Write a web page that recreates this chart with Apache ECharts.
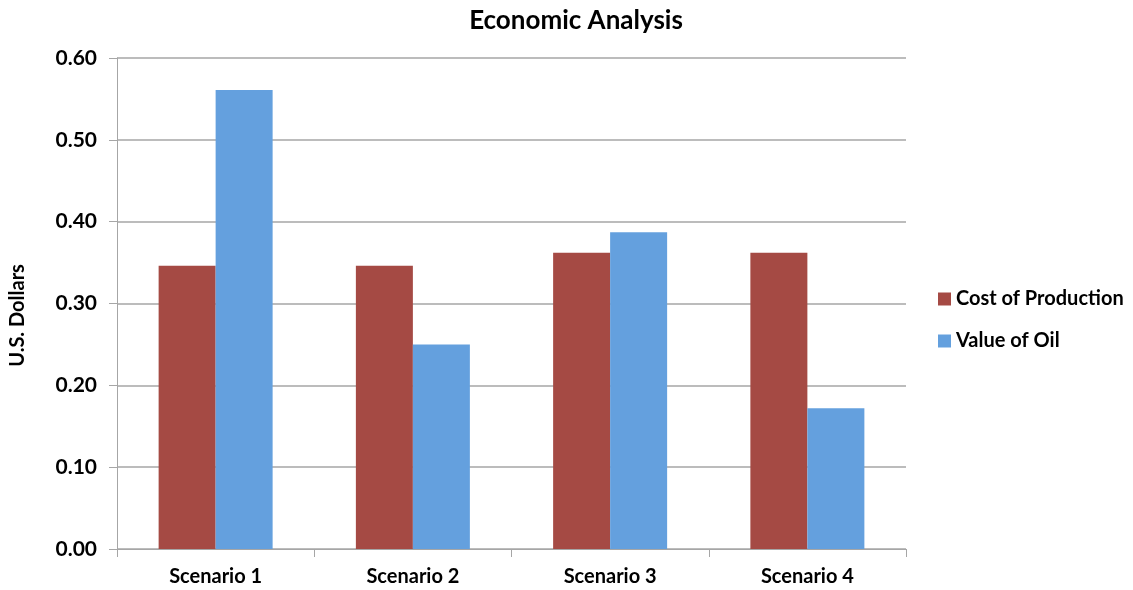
<!DOCTYPE html>
<html>
<head>
<meta charset="utf-8">
<script src="https://cdn.jsdelivr.net/npm/echarts@6/dist/echarts.min.js"></script>
<style>
  html, body { margin: 0; padding: 0; background: #fff; }
  #chart { width: 1133px; height: 590px; }
</style>
</head>
<body>
<div id="chart"></div>
<script>
// Values
const categories = ["Scenario 1", "Scenario 2", "Scenario 3", "Scenario 4"];
const costOfProduction = [0.346, 0.346, 0.362, 0.362];
const valueOfOil = [0.561, 0.250, 0.387, 0.172];
const yTicks = [0, 0.1, 0.2, 0.3, 0.4, 0.5, 0.6];

const FONT = "Lato, 'Open Sans', sans-serif";
const TEXT = "#000";
const GRID_LINE = "#a6a6a6";

const chart = echarts.init(document.getElementById("chart"), null, { renderer: "canvas" });

chart.setOption({
  animation: false,
  backgroundColor: "#fff",
  textStyle: { fontFamily: FONT },
  title: {
    text: "Economic Analysis",
    left: 571,
    top: 3,
    textAlign: "center",
    textStyle: { fontFamily: FONT, fontSize: 26, fontWeight: "bold", color: TEXT },
  },
  legend: {
    orient: "vertical",
    left: 933,
    top: 284,
    itemWidth: 13,
    itemHeight: 13,
    itemGap: 22,
    icon: "rect",
    textStyle: { fontFamily: FONT, fontSize: 20, fontWeight: "bold", color: TEXT },
    data: ["Cost of Production", "Value of Oil"],
  },
  grid: {
    left: 117, right: 227, top: 58, bottom: 41,
    containLabel: false,
    outerBoundsMode: "none",
  },
  xAxis: {
    type: "category",
    data: categories,
    axisLine: { show: true, lineStyle: { color: GRID_LINE, width: 1 } },
    axisTick: { show: true, length: 8, lineStyle: { color: GRID_LINE } },
    axisLabel: { fontFamily: FONT, fontSize: 20, fontWeight: "bold", color: TEXT, margin: 18 },
  },
  yAxis: {
    type: "value",
    min: yTicks[0],
    max: yTicks[yTicks.length - 1],
    interval: 0.1,
    name: "U.S. Dollars",
    nameLocation: "middle",
    nameRotate: 90,
    nameGap: 89,
    nameTextStyle: {
      fontFamily: FONT, fontSize: 20, fontWeight: "bold", color: TEXT,
      padding: [0, 24, 0, 0],
    },
    axisLine: { show: true, lineStyle: { color: GRID_LINE, width: 1 } },
    axisTick: { show: true, length: 8, lineStyle: { color: GRID_LINE } },
    axisLabel: {
      fontFamily: FONT, fontSize: 21, fontWeight: "bold", color: TEXT, margin: 20,
      formatter: (v) => v.toFixed(2),
    },
    splitLine: { show: true, lineStyle: { color: GRID_LINE, width: 1.5 } },
  },
  series: [
    {
      name: "Cost of Production",
      type: "bar",
      data: costOfProduction,
      barWidth: 57,
      barGap: "0%",
      itemStyle: { color: "#a54a44" },
    },
    {
      name: "Value of Oil",
      type: "bar",
      data: valueOfOil,
      barWidth: 57,
      barGap: "0%",
      itemStyle: { color: "#64a0de" },
    },
  ],
});
</script>
</body>
</html>
